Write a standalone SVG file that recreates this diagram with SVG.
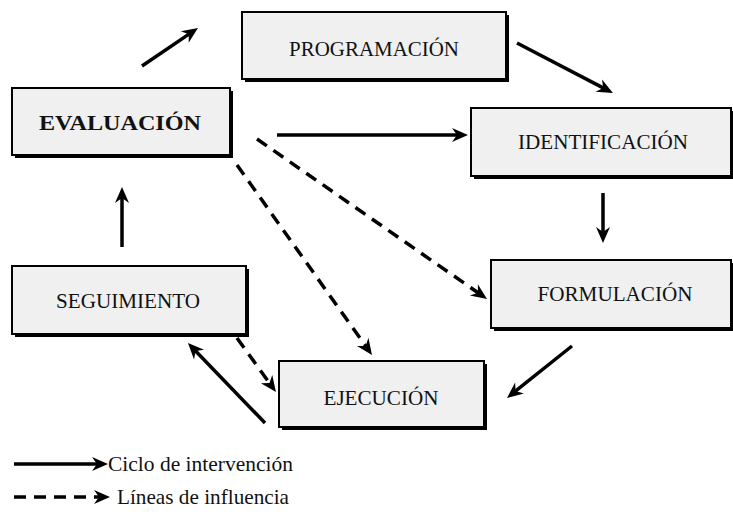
<svg xmlns="http://www.w3.org/2000/svg" width="733" height="512" viewBox="0 0 733 512">
<style>
.box{fill:#f0f0f0;stroke:#000;stroke-width:2}
.sh{fill:#000}
text{font-family:"Liberation Serif","Times New Roman",Tinos,"DejaVu Serif",serif;font-size:21px;fill:#111}
.t{text-anchor:middle}
.b{font-weight:bold}
.c{stroke:#000;stroke-width:3.5;fill:none;marker-end:url(#ah)}
.d{stroke-dasharray:12 8}
</style>
<defs>
<marker id="ah" markerUnits="userSpaceOnUse" markerWidth="20" markerHeight="16" refX="6" refY="7" orient="auto" overflow="visible">
<path d="M0,0 L16,7 L0,14 L5,7 z" fill="#000"/>
</marker>
</defs>
<g id="programacion">
<rect class="sh" x="245" y="15" width="264" height="67"/>
<rect class="box" x="242" y="12" width="264" height="67"/>
<text class="t" x="374" y="56" textLength="170" lengthAdjust="spacingAndGlyphs">PROGRAMACIÓN</text>
</g>
<g id="evaluacion">
<rect class="sh" x="15" y="91" width="218" height="67"/>
<rect class="box" x="12" y="88" width="218" height="67"/>
<text class="t b" x="120" y="130" textLength="162" lengthAdjust="spacingAndGlyphs">EVALUACIÓN</text>
</g>
<g id="identificacion">
<rect class="sh" x="474" y="111" width="260" height="68"/>
<rect class="box" x="471" y="108" width="260" height="68"/>
<text class="t" x="603" y="149" textLength="170" lengthAdjust="spacingAndGlyphs">IDENTIFICACIÓN</text>
</g>
<g id="formulacion">
<rect class="sh" x="494" y="263" width="240" height="68"/>
<rect class="box" x="491" y="260" width="240" height="68"/>
<text class="t" x="615" y="301" textLength="155" lengthAdjust="spacingAndGlyphs">FORMULACIÓN</text>
</g>
<g id="seguimiento">
<rect class="sh" x="15" y="269" width="234" height="68"/>
<rect class="box" x="12" y="266" width="234" height="68"/>
<text class="t" x="128" y="308" textLength="144" lengthAdjust="spacingAndGlyphs">SEGUIMIENTO</text>
</g>
<g id="ejecucion">
<rect class="sh" x="282" y="364" width="205" height="66"/>
<rect class="box" x="279" y="361" width="205" height="66"/>
<text class="t" x="381" y="405" textLength="115" lengthAdjust="spacingAndGlyphs">EJECUCIÓN</text>
</g>
<g id="connectors">
<line class="c" x1="142" y1="66" x2="189.7" y2="33.6"/>
<line class="c" x1="517" y1="43" x2="604.1" y2="88.4"/>
<line class="c" x1="277" y1="135" x2="458" y2="135"/>
<line class="c" x1="603" y1="193" x2="603" y2="233"/>
<line class="c" x1="572" y1="346" x2="514.8" y2="391.7"/>
<line class="c" x1="265" y1="423" x2="194.9" y2="350.2"/>
<line class="c" x1="122" y1="247" x2="122" y2="197"/>
<line class="c d" x1="257" y1="139" x2="478.8" y2="293.3"/>
<line class="c d" x1="237" y1="165" x2="366.2" y2="346.8"/>
<line class="c d" x1="237" y1="338" x2="270.1" y2="383.9"/>
</g>
<g id="legend">
<line class="c" x1="14" y1="464" x2="98" y2="464"/>
<text x="108" y="471" textLength="185" lengthAdjust="spacingAndGlyphs">Ciclo de intervención</text>
<line class="c d" x1="14" y1="497" x2="100" y2="497"/>
<text x="117" y="504" textLength="172" lengthAdjust="spacingAndGlyphs">Líneas de influencia</text>
</g>
</svg>
